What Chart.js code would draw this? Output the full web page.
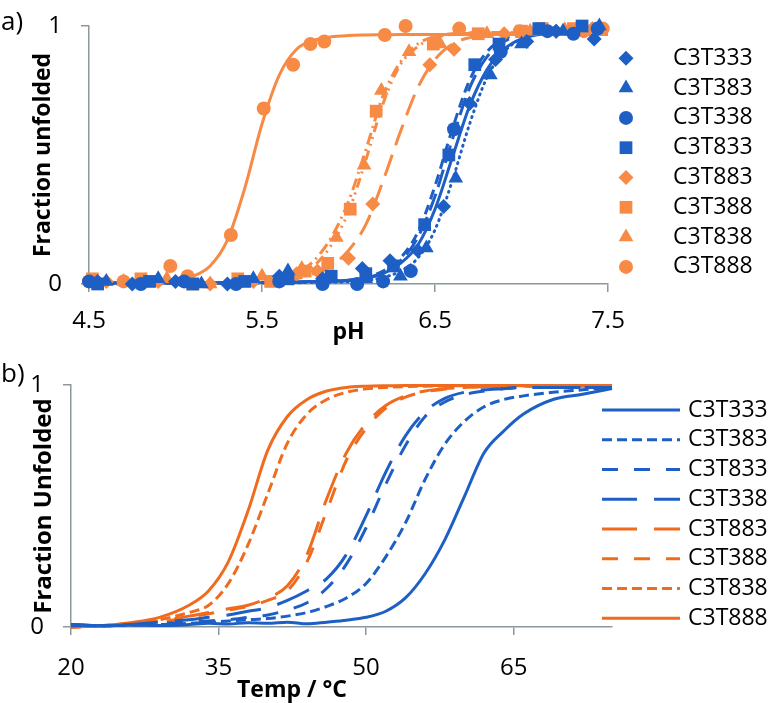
<!DOCTYPE html>
<html>
<head>
<meta charset="utf-8">
<script src="https://cdn.jsdelivr.net/npm/chart.js@4.4.0/dist/chart.umd.min.js"></script>
<style>
  body { margin: 0; background: #fff; }
  #page { position: relative; width: 773px; height: 703px; font-family: 'Open Sans', sans-serif; color: #000; }
  canvas { position: absolute; left: 0; }
  #chartA { top: 0; }
  #chartB { top: 346px; }
  .panel { position: absolute; left: 1px; font-size: 26px; line-height: 26px; }
  #tempTitle { position: absolute; left: 192px; width: 200px; top: 674px; text-align: center; font-weight: bold; font-size: 23px; line-height: 28px; }
</style>
</head>
<body>
<div id="page">
  <canvas id="chartA" width="773" height="346"></canvas>
  <canvas id="chartB" width="773" height="357"></canvas>
  <div class="panel" style="top: 7px;">a)</div>
  <div class="panel" style="top: 359px;">b)</div>
  <div id="tempTitle">Temp / °C</div>
</div>
<script>
// ---- panel a: pH titration, measured points + fitted curves ----
const phTicks = [4.5, 5.5, 6.5, 7.5];
const fracTicks = [0, 1];
const phNames = ['C3T333', 'C3T383', 'C3T338', 'C3T833', 'C3T883', 'C3T388', 'C3T838', 'C3T888'];

const phC3T333 = [4.55, 4.75, 5.0, 5.3, 5.6, 5.85, 6.08, 6.24, 6.4, 6.55, 6.7, 6.85, 7.03, 7.2, 7.42];
const frC3T333 = [0.01, 0.0, 0.01, 0.0, 0.03, 0.02, 0.06, 0.09, 0.13, 0.3, 0.7, 0.87, 0.94, 0.98, 0.95];
const phC3T383 = [4.6, 4.9, 5.15, 5.45, 5.65, 5.9, 6.1, 6.3, 6.45, 6.62, 6.82, 7.0, 7.24, 7.45];
const frC3T383 = [0.01, 0.02, 0.0, 0.02, 0.05, 0.02, 0.02, 0.03, 0.14, 0.41, 0.81, 0.93, 0.98, 1.0];
const phC3T338 = [4.5, 4.8, 5.05, 5.35, 5.6, 5.85, 6.05, 6.2, 6.36, 6.61, 6.88, 7.15, 7.3, 7.44];
const frC3T338 = [0.01, 0.0, 0.01, 0.0, 0.01, 0.0, 0.0, 0.01, 0.05, 0.6, 0.9, 0.98, 0.97, 0.99];
const phC3T833 = [4.55, 4.85, 5.1, 5.4, 5.65, 5.9, 6.1, 6.26, 6.44, 6.58, 6.73, 6.87, 7.1, 7.35];
const frC3T833 = [0.0, 0.01, 0.0, 0.01, 0.02, 0.03, 0.04, 0.07, 0.23, 0.5, 0.85, 0.93, 0.99, 1.0];
const phC3T883 = [4.6, 4.9, 5.2, 5.45, 5.7, 5.82, 6.0, 6.14, 6.47, 6.61, 6.9, 7.2, 7.41];
const frC3T883 = [0.01, 0.01, 0.0, 0.01, 0.04, 0.05, 0.1, 0.31, 0.85, 0.91, 0.97, 0.98, 0.99];
const phC3T388 = [4.52, 4.8, 5.1, 5.36, 5.55, 5.75, 5.88, 6.01, 6.16, 6.49, 6.75, 7.0, 7.12, 7.3];
const frC3T388 = [0.02, 0.02, 0.0, 0.02, 0.01, 0.05, 0.08, 0.29, 0.67, 0.93, 0.97, 0.98, 0.99, 0.99];
const phC3T838 = [4.7, 4.95, 5.2, 5.5, 5.73, 5.93, 6.09, 6.19, 6.35, 6.53, 6.8, 7.05, 7.25, 7.45];
const frC3T838 = [0.01, 0.02, 0.0, 0.03, 0.06, 0.18, 0.46, 0.75, 0.9, 0.93, 0.97, 0.98, 0.985, 0.99];
const phC3T888 = [4.5, 4.7, 4.97, 5.07, 5.32, 5.51, 5.68, 5.78, 5.86, 6.21, 6.33, 6.64, 6.99, 7.36, 7.47];
const frC3T888 = [0.01, 0.01, 0.07, 0.03, 0.19, 0.68, 0.85, 0.93, 0.94, 0.965, 1.0, 0.99, 0.98, 0.98, 0.99];

// fitted curves at these pH values
const phGrid = [4.5, 4.8, 5.0, 5.1, 5.2, 5.3, 5.4, 5.5, 5.6, 5.7, 5.8, 5.9, 6.0, 6.1, 6.2, 6.3, 6.4, 6.5, 6.6, 6.7, 6.8, 6.9, 7.0, 7.2, 7.5];
const fitC3T333 = [0.005, 0.005, 0.005, 0.005, 0.005, 0.005, 0.005, 0.006, 0.007, 0.008, 0.01, 0.012, 0.015, 0.022, 0.04, 0.08, 0.15, 0.29, 0.49, 0.69, 0.83, 0.91, 0.95, 0.975, 0.985];
const fitC3T383 = [0.003, 0.003, 0.003, 0.003, 0.003, 0.003, 0.003, 0.004, 0.004, 0.005, 0.006, 0.007, 0.009, 0.014, 0.025, 0.05, 0.1, 0.21, 0.4, 0.62, 0.8, 0.9, 0.95, 0.98, 0.99];
const fitC3T338 = [0.004, 0.004, 0.004, 0.004, 0.004, 0.004, 0.004, 0.005, 0.006, 0.007, 0.008, 0.01, 0.013, 0.023, 0.045, 0.09, 0.18, 0.34, 0.56, 0.76, 0.88, 0.94, 0.965, 0.98, 0.99];
const fitC3T833 = [0.004, 0.004, 0.004, 0.004, 0.004, 0.004, 0.004, 0.005, 0.006, 0.007, 0.009, 0.011, 0.015, 0.027, 0.05, 0.1, 0.2, 0.38, 0.6, 0.79, 0.9, 0.95, 0.97, 0.985, 0.99];
const fitC3T883 = [0.003, 0.003, 0.003, 0.003, 0.004, 0.004, 0.005, 0.006, 0.01, 0.02, 0.04, 0.07, 0.13, 0.23, 0.4, 0.59, 0.76, 0.87, 0.93, 0.955, 0.965, 0.97, 0.972, 0.975, 0.975];
const fitC3T388 = [0.003, 0.003, 0.003, 0.003, 0.003, 0.003, 0.004, 0.005, 0.012, 0.03, 0.07, 0.15, 0.28, 0.48, 0.7, 0.85, 0.92, 0.955, 0.968, 0.972, 0.974, 0.975, 0.975, 0.975, 0.975];
const fitC3T838 = [0.003, 0.003, 0.003, 0.003, 0.003, 0.003, 0.004, 0.006, 0.015, 0.04, 0.09, 0.18, 0.32, 0.52, 0.73, 0.86, 0.93, 0.96, 0.97, 0.974, 0.975, 0.975, 0.975, 0.975, 0.975];
const fitC3T888 = [0.002, 0.005, 0.013, 0.03, 0.07, 0.17, 0.37, 0.62, 0.81, 0.91, 0.945, 0.958, 0.963, 0.965, 0.966, 0.967, 0.967, 0.967, 0.967, 0.967, 0.967, 0.967, 0.967, 0.967, 0.967];

// ---- panel b: thermal melts ----
const tempTicks = [20, 35, 50, 65];
const meltNames = ['C3T333', 'C3T383', 'C3T833', 'C3T338', 'C3T883', 'C3T388', 'C3T838', 'C3T888'];
const tempGrid = [20, 23, 26, 29, 32, 34, 36, 38, 40, 42, 44, 46, 48, 50, 52, 54, 56, 58, 60, 62, 64, 66, 69, 72, 75];
const meltC3T333 = [0.01, 0.005, 0.008, 0.006, 0.01, 0.015, 0.012, 0.018, 0.015, 0.02, 0.013, 0.02, 0.028, 0.04, 0.065, 0.12, 0.22, 0.36, 0.54, 0.72, 0.81, 0.88, 0.94, 0.962, 0.985];
const meltC3T383 = [0.005, 0.005, 0.008, 0.01, 0.015, 0.02, 0.025, 0.03, 0.035, 0.045, 0.06, 0.085, 0.12, 0.18, 0.29, 0.43, 0.61, 0.755, 0.85, 0.91, 0.94, 0.955, 0.97, 0.98, 0.99];
const meltC3T833 = [0.01, 0.005, 0.01, 0.015, 0.02, 0.025, 0.03, 0.04, 0.05, 0.07, 0.1, 0.16, 0.26, 0.41, 0.59, 0.75, 0.87, 0.93, 0.96, 0.975, 0.985, 0.99, 0.99, 0.99, 0.99];
const meltC3T338 = [0.01, 0.005, 0.01, 0.02, 0.03, 0.04, 0.05, 0.065, 0.08, 0.11, 0.15, 0.2, 0.3, 0.46, 0.64, 0.79, 0.89, 0.945, 0.97, 0.98, 0.985, 0.99, 0.99, 0.99, 0.99];
const meltC3T883 = [0.0, 0.005, 0.012, 0.025, 0.045, 0.06, 0.075, 0.09, 0.12, 0.17, 0.3, 0.53, 0.72, 0.84, 0.915, 0.955, 0.975, 0.985, 0.99, 0.993, 0.995, 0.995, 0.995, 0.995, 0.995];
const meltC3T388 = [0.0, 0.005, 0.01, 0.02, 0.04, 0.055, 0.07, 0.085, 0.11, 0.15, 0.27, 0.48, 0.69, 0.82, 0.905, 0.95, 0.972, 0.983, 0.99, 0.993, 0.995, 0.995, 0.995, 0.995, 0.995];
const meltC3T838 = [0.0, 0.005, 0.015, 0.03, 0.06, 0.09, 0.18, 0.34, 0.55, 0.76, 0.88, 0.94, 0.97, 0.984, 0.99, 0.993, 0.995, 0.996, 0.997, 0.997, 0.997, 0.997, 0.997, 0.997, 0.997];
const meltC3T888 = [0.0, 0.005, 0.018, 0.04, 0.09, 0.15, 0.27, 0.48, 0.73, 0.87, 0.94, 0.975, 0.99, 0.995, 0.997, 0.998, 0.998, 0.998, 0.998, 0.998, 0.998, 0.998, 0.998, 0.998, 0.998];

// styles
const blue = '#1d5fc4';
const orangeA = '#f78a45';
const orangeB = '#f06b1e';
const axisGrey = '#8c989c';
const markerStyles = ['rectRot', 'triangle', 'circle', 'rect', 'rectRot', 'rect', 'triangle', 'circle'];
const markerSizes = [7.5, 8.5, 7, 9, 7.5, 9, 8.5, 7];
const fitDashes = [[], [1, 5], [18, 7], [10, 6], [22, 10], [10, 5, 2, 5, 2, 5], [12, 5, 2, 5], []];
const meltDashes = [[], [10, 5], [16, 16], [35, 17], [35, 17], [16, 16], [10, 5], []];

Chart.defaults.font.family = "'Open Sans', sans-serif";
Chart.defaults.color = '#000';

// legend at fixed spots beside the plot, like the original figure
const sideLegend = {
  id: 'sideLegend',
  afterDraw(chart, args, opts) {
    const ctx = chart.ctx;
    let row = 0;
    chart.data.datasets.forEach(ds => {
      if (!ds.label) return;
      const y = opts.top + row * opts.rowHeight;
      ctx.save();
      if (opts.kind === 'point') {
        ctx.fillStyle = ds.backgroundColor;
        ctx.strokeStyle = ds.borderColor;
        Chart.helpers.drawPoint(ctx, { pointStyle: ds.pointStyle, radius: ds.pointRadius, rotation: 0, borderWidth: 0 }, opts.markX, y);
      } else {
        ctx.strokeStyle = ds.borderColor;
        ctx.lineWidth = ds.borderWidth;
        ctx.setLineDash(ds.borderDash);
        ctx.beginPath();
        ctx.moveTo(opts.lineFrom, y);
        ctx.lineTo(opts.lineTo, y);
        ctx.stroke();
      }
      ctx.setLineDash([]);
      ctx.fillStyle = '#000';
      ctx.font = opts.font;
      ctx.textAlign = 'left';
      ctx.textBaseline = 'middle';
      ctx.fillText(ds.label, opts.textX, y);
      ctx.restore();
      row++;
    });
  }
};

function axisStyle() {
  return {
    grid: { drawOnChartArea: false, drawTicks: true, tickLength: 8, color: axisGrey, lineWidth: 1.5 },
    border: { display: true, color: axisGrey, width: 1.5 }
  };
}

// pin the y axis width and stop its label padding from pushing the plot down
function pinY(s) {
  s.width = 60;
  s.paddingTop = 0;
  s.paddingBottom = 0;
}

const phPoints = [
  [phC3T333, frC3T333], [phC3T383, frC3T383], [phC3T338, frC3T338], [phC3T833, frC3T833],
  [phC3T883, frC3T883], [phC3T388, frC3T388], [phC3T838, frC3T838], [phC3T888, frC3T888]
];
const phFits = [fitC3T333, fitC3T383, fitC3T338, fitC3T833, fitC3T883, fitC3T388, fitC3T838, fitC3T888];

const pointSets = phPoints.map((p, i) => ({
  label: phNames[i],
  data: p[0].map((x, j) => ({ x: x, y: p[1][j] })),
  pointStyle: markerStyles[i],
  pointRadius: markerSizes[i],
  pointBorderWidth: 0,
  backgroundColor: i < 4 ? blue : orangeA,
  borderColor: i < 4 ? blue : orangeA,
  clip: false
}));

const fitSets = phFits.map((f, i) => ({
  data: phGrid.map((x, j) => ({ x: x, y: f[j] })),
  showLine: true,
  pointRadius: 0,
  borderWidth: 3,
  borderColor: i < 4 ? blue : orangeA,
  borderDash: fitDashes[i],
  borderCapStyle: i === 1 ? 'round' : 'butt',
  cubicInterpolationMode: 'monotone',
  clip: false
}));

new Chart(document.getElementById('chartA'), {
  type: 'scatter',
  data: { datasets: pointSets.concat(fitSets) },
  options: {
    responsive: false,
    animation: false,
    devicePixelRatio: 1,
    layout: { padding: { left: 29, top: 26, right: 165, bottom: 0 } },
    plugins: {
      legend: { display: false },
      tooltip: { enabled: false },
      sideLegend: { kind: 'point', markX: 626, textX: 673, top: 58.3, rowHeight: 29.8, font: "23px 'Open Sans'" }
    },
    scales: {
      x: {
        type: 'linear', min: 4.5, max: 7.5,
        afterBuildTicks: s => { s.ticks = phTicks.map(v => ({ value: v })); },
        afterFit: s => { s.height = 62; },
        ticks: { font: { size: 24 }, padding: 15, maxRotation: 0, callback: v => v.toFixed(1) },
        title: { display: true, text: 'pH', font: { size: 23, weight: 'bold' }, padding: 0 },
        ...axisStyle()
      },
      y: {
        type: 'linear', min: 0, max: 1,
        afterBuildTicks: s => { s.ticks = fracTicks.map(v => ({ value: v })); },
        afterFit: pinY,
        ticks: { font: { size: 24 }, padding: 19 },
        title: { display: true, text: 'Fraction unfolded', font: { size: 23, weight: 'bold' }, padding: { top: 1, bottom: 0 } },
        ...axisStyle()
      }
    }
  },
  plugins: [sideLegend]
});

const melts = [meltC3T333, meltC3T383, meltC3T833, meltC3T338, meltC3T883, meltC3T388, meltC3T838, meltC3T888];

new Chart(document.getElementById('chartB'), {
  type: 'line',
  data: {
    datasets: melts.map((m, i) => ({
      label: meltNames[i],
      data: tempGrid.map((t, j) => ({ x: t, y: m[j] })),
      pointRadius: 0,
      borderWidth: 3,
      borderColor: i < 4 ? blue : orangeB,
      borderDash: meltDashes[i],
      fill: false,
      cubicInterpolationMode: 'monotone',
      clip: false
    }))
  },
  options: {
    responsive: false,
    animation: false,
    devicePixelRatio: 1,
    layout: { padding: { left: 11, top: 39, right: 161, bottom: 0 } },
    plugins: {
      legend: { display: false },
      tooltip: { enabled: false },
      sideLegend: { kind: 'line', lineFrom: 602, lineTo: 680, textX: 688, top: 64, rowHeight: 29.75, font: "23px 'Open Sans'" }
    },
    scales: {
      x: {
        type: 'linear', min: 20, max: 75,
        afterBuildTicks: s => { s.ticks = tempTicks.map(v => ({ value: v })); },
        afterFit: s => { s.height = 76; },
        ticks: { font: { size: 24 }, padding: 19, maxRotation: 0 },
        ...axisStyle()
      },
      y: {
        type: 'linear', min: 0, max: 1,
        afterBuildTicks: s => { s.ticks = fracTicks.map(v => ({ value: v })); },
        afterFit: pinY,
        ticks: { font: { size: 24 }, padding: 19 },
        title: { display: true, text: 'Fraction Unfolded', font: { size: 24, weight: 'bold' }, padding: { top: 19, bottom: 0 } },
        ...axisStyle()
      }
    }
  },
  plugins: [sideLegend]
});
</script>
</body>
</html>
